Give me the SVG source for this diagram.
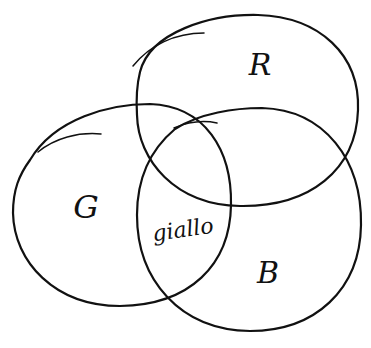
<svg xmlns="http://www.w3.org/2000/svg" width="371" height="348" viewBox="0 0 371 348">
<style>
.c{fill:none;stroke:#111;stroke-width:2.2;stroke-linecap:round}
.f{fill:none;stroke:#111;stroke-width:1.5;stroke-linecap:round}
.t{font-family:"DejaVu Serif","Liberation Serif",serif;font-style:italic;fill:#111}
</style>
<rect width="371" height="348" fill="#fff"/>
<g id="R">
<path class="c" d="M140,72 C150,32 210,14 258,15 C320,17 360,55 358,110 C356,170 310,207 240,206 C175,205 138,160 137,115 C136,98 137,84 140,72 Z"/>
<path class="f" d="M133,66 C150,45 175,33 204,33"/>
<text class="t" x="260" y="75" font-size="30" text-anchor="middle">R</text>
</g>
<g id="G">
<path class="c" d="M30,160 C55,118 110,104 150,104 C205,106 232,150 231,205 C230,265 190,305 120,306 C55,306 14,262 13,213 C13,190 19,175 30,160 Z"/>
<path class="f" d="M38,152 C55,138 78,132 101,134"/>
<text class="t" x="86" y="218" font-size="32" text-anchor="middle">G</text>
</g>
<g id="B">
<path class="c" d="M175,129 C200,113 235,108 262,108 C325,110 362,160 361,225 C360,290 315,331 250,331 C180,330 137,280 137,215 C137,180 150,150 175,129 Z"/>
<path class="f" d="M174,128 C188,122 203,120 217,123"/>
<text class="t" x="268" y="283" font-size="30" text-anchor="middle">B</text>
</g>
<g id="Y">
<text class="t" x="183" y="237" font-size="22" text-anchor="middle" transform="rotate(-8 183 230)">giallo</text>
</g>
<g id="connectors"/>
</svg>
